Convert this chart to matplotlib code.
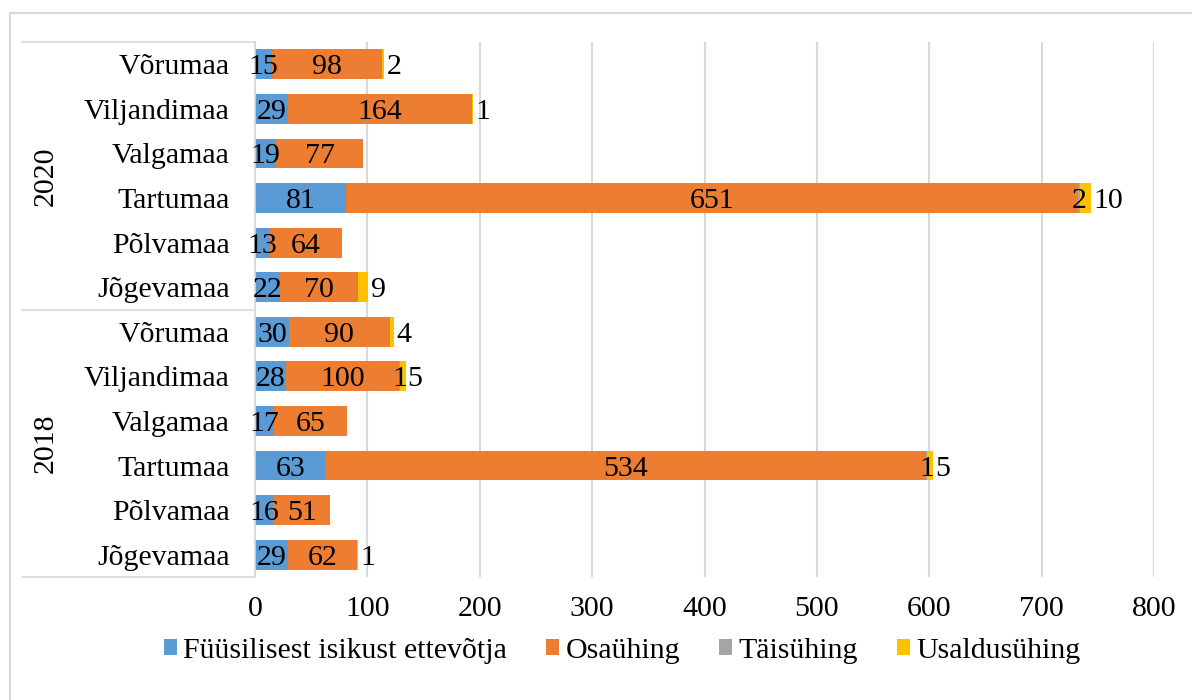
import matplotlib
matplotlib.use("Agg")
import matplotlib.pyplot as plt
from matplotlib.patches import Patch
from matplotlib.lines import Line2D
from matplotlib.transforms import blended_transform_factory
import numpy as np

plt.rcParams['font.family'] = ['Liberation Serif', 'DejaVu Serif']

# Data (bottom to top)
years = ["2018", "2020"]
counties = ["Jõgevamaa", "Põlvamaa", "Tartumaa", "Valgamaa", "Viljandimaa", "Võrumaa"]
series_names = ["Füüsilisest isikust ettevõtja", "Osaühing", "Täisühing", "Usaldusühing"]
fie_2018 = [29, 16, 63, 17, 28, 30]
ou_2018 = [62, 51, 534, 65, 100, 90]
ty_2018 = [0, 0, 1, 0, 1, 0]
usy_2018 = [1, 0, 5, 0, 5, 4]
fie_2020 = [22, 13, 81, 19, 29, 15]
ou_2020 = [70, 64, 651, 77, 164, 98]
ty_2020 = [0, 0, 2, 0, 0, 0]
usy_2020 = [9, 0, 10, 0, 1, 2]
colors = ["#5B9BD5", "#ED7D31", "#A5A5A5", "#FFC000"]

series = [np.array(fie_2018 + fie_2020), np.array(ou_2018 + ou_2020),
          np.array(ty_2018 + ty_2020), np.array(usy_2018 + usy_2020)]
cats = counties + counties
y = np.arange(len(cats))

W, H = 1192, 700
fig = plt.figure(figsize=(W / 100, H / 100), dpi=100)
ax = fig.add_axes([255 / W, 1 - 577 / H, (1154 - 255) / W, (577 - 42) / H])

FS = 21.5
left = np.zeros(len(cats))
containers = []
for vals, col in zip(series, colors):
    c = ax.barh(y, vals, left=left, height=0.67, color=col, zorder=3)
    containers.append(c)
    left = left + vals

for i, (c, vals) in enumerate(zip(containers, series)):
    labels = [str(v) if v > 0 else "" for v in vals]
    if i < 3:
        texts = ax.bar_label(c, labels=labels, label_type='center', fontsize=FS, color='black', zorder=5)
    else:
        texts = ax.bar_label(c, labels=labels, label_type='edge', padding=1.5, fontsize=FS, color='black', zorder=5)
    for t in texts:
        t.set_va('center_baseline')

ax.set_xlim(0, 800)
ax.set_ylim(-0.5, len(cats) - 0.5)
ax.set_xticks(np.arange(0, 801, 100))
ax.set_yticks(y)
ax.set_yticklabels(cats)
ax.tick_params(axis='y', length=0, pad=18, labelsize=FS)
ax.tick_params(axis='x', length=0, pad=14, labelsize=FS)
for t in ax.get_yticklabels():
    t.set_va('center_baseline')
ax.xaxis.grid(True, color='#D9D9D9', linewidth=1.5, zorder=0)
ax.set_axisbelow(True)
for s in ['top', 'right', 'bottom']:
    ax.spines[s].set_visible(False)
ax.spines['left'].set_color('#D9D9D9')
ax.spines['left'].set_linewidth(1.2)
ax.spines['left'].set_zorder(4)

# Group labels and separators
trans = blended_transform_factory(ax.transAxes, ax.transData)
xl = (22 - 255) / (1154 - 255)
for yy in [-0.5, 5.5, 11.5]:
    ax.plot([xl, 0], [yy, yy], transform=trans, color='#D9D9D9', linewidth=1.2, clip_on=False)
xt = (46 - 255) / (1154 - 255)
ax.text(xt, 2.5, years[0], transform=trans, rotation=90, ha='center', va='center', fontsize=FS)
ax.text(xt, 8.5, years[1], transform=trans, rotation=90, ha='center', va='center', fontsize=FS)

# Outer chart border (left and top visible)
fig.add_artist(Line2D([10 / W, 10 / W], [0, 1 - 13 / H], transform=fig.transFigure, color='#D9D9D9', linewidth=1.5))
fig.add_artist(Line2D([10 / W, 1], [1 - 13 / H, 1 - 13 / H], transform=fig.transFigure, color='#D9D9D9', linewidth=1.5))

handles = [Patch(facecolor=c, edgecolor='none') for c in colors]
fig.legend(handles, series_names, loc='center', bbox_to_anchor=(622 / W, 1 - 651 / H), ncol=4,
           frameon=False, fontsize=FS, handlelength=0.45, handleheight=0.45, handletextpad=0.2,
           columnspacing=1.3)

fig.savefig("out.png", dpi=100)
